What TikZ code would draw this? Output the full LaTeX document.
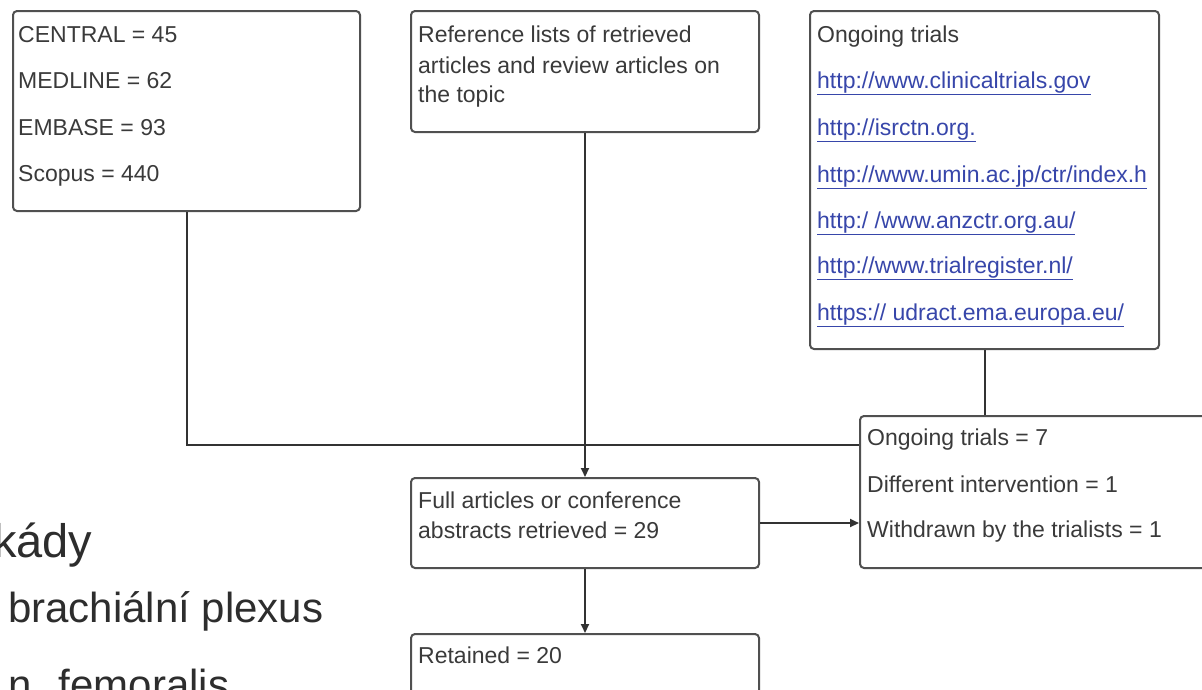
\documentclass[tikz,border=0pt]{standalone}
\usepackage{fontspec}
\setmainfont{Liberation Sans}
\usetikzlibrary{arrows.meta}
\definecolor{txt}{RGB}{58,58,58}
\definecolor{lnk}{RGB}{55,70,170}
\definecolor{edgec}{RGB}{80,80,80}
\definecolor{linec}{RGB}{50,50,50}
\definecolor{bigc}{RGB}{45,45,45}
\begin{document}
\begin{tikzpicture}[x=1pt,y=-1pt,
 box/.style={draw=edgec, line width=2pt, rounded corners=4pt, anchor=north west, inner sep=0pt, fill=white},
 lbl/.style={anchor=base west, inner sep=0pt, text=txt, font=\fontsize{23}{27}\selectfont},
 url/.style={lbl, text=lnk},
 conn/.style={draw=linec, line width=2pt},
 arr/.style={conn, -{Triangle[width=8pt,length=9pt]}},
 bigtext/.style={anchor=base west, inner sep=0pt, text=bigc, font=\fontsize{42}{50}\selectfont}]
\useasboundingbox (0,0) rectangle (1202,689);
\fill[white] (0,0) rectangle (1202,689);

% background slide text
\node[bigtext, font=\fontsize{47}{56}\selectfont] (h1) at (-7,557) {kády};
\node[bigtext] (h2) at (8,622) {brachiální plexus};
\node[bigtext] (h3) at (8,699) {n. femoralis};

% boxes
\node[box, minimum width=347pt, minimum height=200pt] (db) at (12,10) {};
\node[box, minimum width=348pt, minimum height=121pt] (ref) at (410,10) {};
\node[box, minimum width=349pt, minimum height=338pt] (trials) at (809,10) {};
\node[box, minimum width=360pt, minimum height=152pt] (res) at (859,415) {};
\node[box, minimum width=348pt, minimum height=90pt] (full) at (410,477) {};
\node[box, minimum width=348pt, minimum height=90pt] (ret) at (410,633) {};

% connectors
\draw[conn] (db.south) |- ([yshift=-30pt]res.north west);
\draw[arr] (ref.south) -- (full.north);
\draw[conn] (trials.south) -- (trials.south |- res.north);
\draw[arr] (full.east) -- (full.east -| res.west);
\draw[arr] (full.south) -- (ret.north);

% texts
\node[lbl] (t1) at (18,42) {CENTRAL = 45};
\node[lbl] (t2) at (18,88) {MEDLINE = 62};
\node[lbl] (t3) at (18,135) {EMBASE = 93};
\node[lbl] (t4) at (18,181) {Scopus = 440};

\node[lbl] (r1) at (418,42) {Reference lists of retrieved};
\node[lbl] (r2) at (418,73) {articles and review articles on};
\node[lbl] (r3) at (418,102) {the topic};

\node[lbl] (o0) at (817,42) {Ongoing trials};
\node[url] (o1) at (817,88) {\underline{http://www.clinicaltrials.gov}};
\node[url] (o2) at (817,135) {\underline{http://isrctn.org.}};
\node[url] (o3) at (817,182) {\underline{http://www.umin.ac.jp/ctr/index.h}};
\node[url] (o4) at (817,228) {\underline{http:/ /www.anzctr.org.au/}};
\node[url] (o5) at (817,273) {\underline{http://www.trialregister.nl/}};
\node[url] (o6) at (817,320) {\underline{https:// udract.ema.europa.eu/}};

\node[lbl] (s1) at (867,445) {Ongoing trials = 7};
\node[lbl] (s2) at (867,492) {Different intervention = 1};
\node[lbl] (s3) at (867,537) {Withdrawn by the trialists = 1};

\node[lbl] (f1) at (418,508) {Full articles or conference};
\node[lbl] (f2) at (418,538) {abstracts retrieved = 29};

\node[lbl] (k1) at (418,663) {Retained = 20};
\end{tikzpicture}
\end{document}
